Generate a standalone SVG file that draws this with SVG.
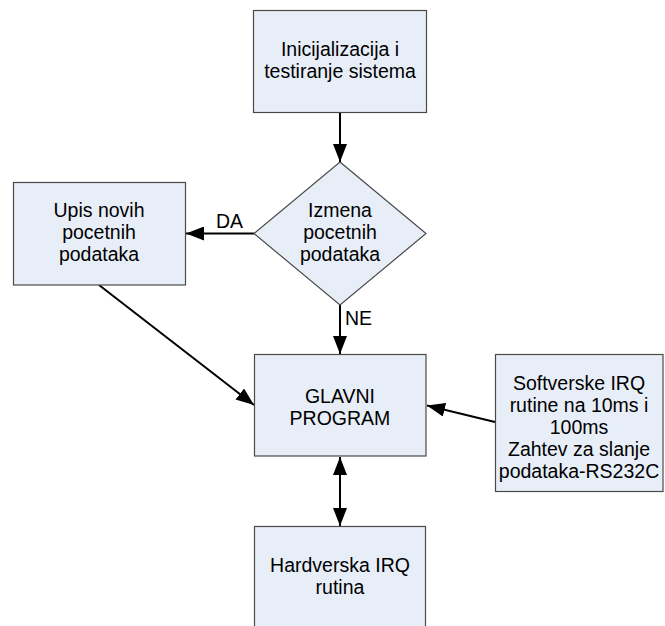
<svg xmlns="http://www.w3.org/2000/svg" width="665" height="626" viewBox="0 0 665 626">
<style>
.box{fill:#E8EEF8;stroke:#4a4a4a;stroke-width:1.2}
.t{font-family:"Liberation Sans",Arial,sans-serif;font-size:19.5px;fill:#000;text-anchor:middle}
.l{font-family:"Liberation Sans",Arial,sans-serif;font-size:19.5px;fill:#000}
.c{stroke:#000;stroke-width:2;fill:none}
</style>
<defs>
<marker id="ah" viewBox="0 0 18 14" refX="18" refY="7" markerWidth="18" markerHeight="14" markerUnits="userSpaceOnUse" orient="auto-start-reverse">
<path d="M0,0 L18,7 L0,14 Z" fill="#000"/>
</marker>
</defs>
<rect width="665" height="626" fill="#fff"/>
<g id="connectors">
<line class="c" x1="340" y1="113" x2="340" y2="162" marker-end="url(#ah)"/>
<line class="c" x1="254" y1="233.5" x2="186" y2="233.5" marker-end="url(#ah)"/>
<line class="c" x1="340" y1="305" x2="340" y2="354" marker-end="url(#ah)"/>
<line class="c" x1="99" y1="285" x2="254" y2="405" marker-end="url(#ah)"/>
<line class="c" x1="495" y1="422" x2="427" y2="405.5" marker-end="url(#ah)"/>
<line class="c" x1="340" y1="457" x2="340" y2="526" marker-start="url(#ah)" marker-end="url(#ah)"/>
<text class="l" x="216" y="228">DA</text>
<text class="l" x="345" y="325">NE</text>
</g>
<g id="init">
<rect class="box" x="253.5" y="10.5" width="173" height="102"/>
<text class="t" x="340" y="55.5">Inicijalizacija i</text>
<text class="t" x="340" y="77.5">testiranje sistema</text>
</g>
<g id="izmena">
<polygon class="box" points="340,162 426,233.5 340,305 254,233.5"/>
<text class="t" x="340" y="216.5">Izmena</text>
<text class="t" x="340" y="238.5">pocetnih</text>
<text class="t" x="340" y="260.5">podataka</text>
</g>
<g id="upis">
<rect class="box" x="13.5" y="182.5" width="172" height="102.5"/>
<text class="t" x="99" y="216.5">Upis novih</text>
<text class="t" x="99" y="238.5">pocetnih</text>
<text class="t" x="99" y="260.5">podataka</text>
</g>
<g id="glavni">
<rect class="box" x="254.5" y="354.5" width="171.5" height="101.5"/>
<text class="t" x="340" y="403">GLAVNI</text>
<text class="t" x="340" y="425">PROGRAM</text>
</g>
<g id="softverske">
<rect class="box" x="495.5" y="354.5" width="167.5" height="137"/>
<text class="t" x="579" y="390">Softverske IRQ</text>
<text class="t" x="579" y="412">rutine na 10ms i</text>
<text class="t" x="579" y="434">100ms</text>
<text class="t" x="579" y="456">Zahtev za slanje</text>
<text class="t" x="579" y="478">podataka-RS232C</text>
</g>
<g id="hardverska">
<rect class="box" x="254.5" y="526.5" width="171" height="110"/>
<text class="t" x="340" y="571.5">Hardverska IRQ</text>
<text class="t" x="340" y="593.5">rutina</text>
</g>
</svg>
